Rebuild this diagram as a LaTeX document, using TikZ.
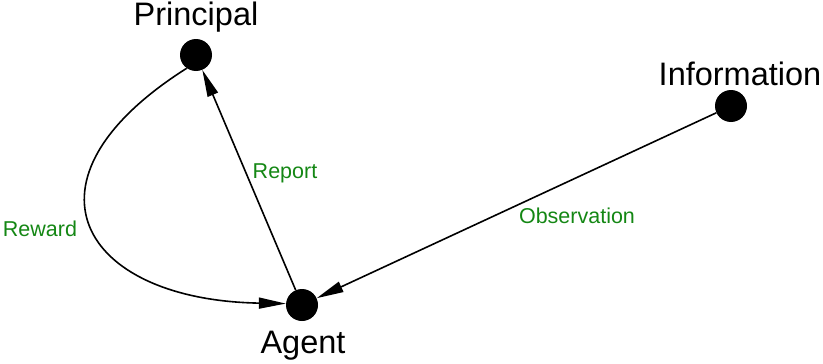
\documentclass[tikz,border=0pt]{standalone}
\usepackage{fontspec}
\setmainfont{Liberation Sans}
\usetikzlibrary{arrows.meta}
\definecolor{lblgreen}{RGB}{20,135,20}
\begin{document}
\begin{tikzpicture}[x=1pt,y=-1pt,
  dot/.style={circle,fill=black,inner sep=0pt,minimum size=32pt},
  bigtext/.style={font=\fontsize{32.5}{34}\selectfont,text=black},
  lbl/.style={font=\fontsize{21.5}{23}\selectfont,text=lblgreen},
  conn/.style={line width=1.6pt,-{Triangle[length=27pt,width=11pt]}}]
\useasboundingbox (0,0) rectangle (823,364);
\node[dot] (P) at (196,55) {};
\node[dot] (A) at (302,305) {};
\node[dot] (I) at (731,106) {};
\node[bigtext] (Pt) at (196,17) {Principal};
\node[bigtext] (At) at (303,346) {Agent};
\node[bigtext] (It) at (740,74) {Information};
\draw[conn] (A) -- (P);
\draw[conn] (I) -- (A);
\draw[conn] (P.-125) .. controls (10,180) and (80,300) .. (A.175);
\node[lbl] (Lrep) at (285,173) {Report};
\node[lbl] (Lobs) at (577,216) {Observation};
\node[lbl] (Lrew) at (40,229) {Reward};
\end{tikzpicture}
\end{document}
